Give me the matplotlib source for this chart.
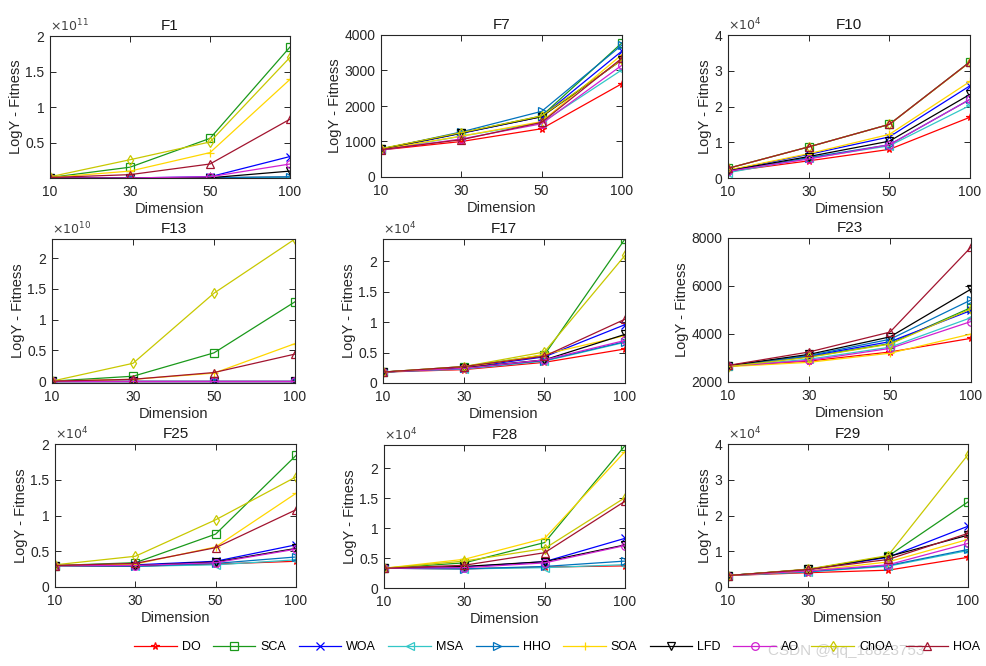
import matplotlib
matplotlib.use("Agg")
import matplotlib.pyplot as plt
import numpy as np

plt.rcParams['font.family'] = ['Liberation Sans', 'DejaVu Sans']

dims = ['10', '30', '50', '100']
algos = ['DO', 'SCA', 'WOA', 'MSA', 'HHO', 'SOA', 'LFD', 'AO', 'ChOA', 'HOA']
colors = ['#FF0000', '#1A991A', '#0000FF', '#33C7C7', '#0072BD', '#FFD700',
          '#000000', '#D020D0', '#C8C800', '#A2142F']
markers = ['*', 's', 'x', '<', '>', '+', 'v', 'o', 'd', '^']

# values per function, rows follow algos, in units of the scale below
F1 = [[0.003, 0.004, 0.006, 0.015],
      [0.01, 0.155, 0.56, 1.845],
      [0.003, 0.004, 0.02, 0.305],
      [0.003, 0.004, 0.006, 0.015],
      [0.003, 0.004, 0.008, 0.02],
      [0.01, 0.10, 0.36, 1.39],
      [0.003, 0.004, 0.006, 0.10],
      [0.003, 0.004, 0.02, 0.20],
      [0.02, 0.26, 0.51, 1.70],
      [0.01, 0.05, 0.20, 0.83]]
F7 = [[760, 1000, 1360, 2630],
      [790, 1240, 1720, 3780],
      [770, 1230, 1700, 3550],
      [750, 1150, 1530, 3020],
      [780, 1270, 1850, 3720],
      [780, 1150, 1560, 3450],
      [790, 1240, 1700, 3300],
      [760, 1070, 1500, 3150],
      [800, 1250, 1720, 3300],
      [770, 1050, 1540, 3350]]
F10 = [[0.18, 0.48, 0.80, 1.70],
       [0.27, 0.87, 1.50, 3.25],
       [0.21, 0.66, 1.15, 2.58],
       [0.15, 0.55, 0.90, 2.03],
       [0.19, 0.57, 0.93, 2.20],
       [0.22, 0.68, 1.22, 2.70],
       [0.20, 0.60, 1.03, 2.34],
       [0.19, 0.53, 0.93, 2.20],
       [0.27, 0.87, 1.50, 3.24],
       [0.27, 0.87, 1.50, 3.25]]
F13 = [[0.0, 0.0, 0.0, 0.0],
       [0.0, 0.08, 0.46, 1.29],
       [0.0, 0.0, 0.0, 0.0],
       [0.0, 0.0, 0.0, 0.0],
       [0.0, 0.0, 0.0, 0.0],
       [0.0, 0.03, 0.13, 0.61],
       [0.0, 0.0, 0.0, 0.0],
       [0.0, 0.0, 0.0, 0.0],
       [0.0, 0.29, 1.43, 2.31],
       [0.0, 0.03, 0.14, 0.44]]
F17 = [[0.18, 0.22, 0.34, 0.56],
       [0.18, 0.27, 0.46, 2.37],
       [0.18, 0.25, 0.43, 0.96],
       [0.18, 0.23, 0.36, 0.67],
       [0.18, 0.24, 0.37, 0.68],
       [0.18, 0.25, 0.47, 0.78],
       [0.18, 0.25, 0.38, 0.80],
       [0.18, 0.24, 0.38, 0.70],
       [0.18, 0.27, 0.51, 2.10],
       [0.18, 0.27, 0.44, 1.05]]
F23 = [[2660, 2870, 3250, 3820],
       [2660, 3050, 3600, 5100],
       [2670, 3080, 3680, 4980],
       [2650, 2950, 3450, 4680],
       [2670, 3100, 3780, 5420],
       [2640, 2820, 3200, 4000],
       [2680, 3150, 3880, 5870],
       [2660, 2900, 3400, 4520],
       [2640, 3030, 3580, 5050],
       [2690, 3250, 4080, 7620]]
F25 = [[0.30, 0.29, 0.32, 0.36],
       [0.30, 0.34, 0.74, 1.84],
       [0.30, 0.31, 0.36, 0.59],
       [0.30, 0.29, 0.31, 0.38],
       [0.30, 0.29, 0.33, 0.42],
       [0.30, 0.32, 0.56, 1.31],
       [0.30, 0.30, 0.35, 0.54],
       [0.30, 0.30, 0.34, 0.53],
       [0.31, 0.43, 0.94, 1.54],
       [0.30, 0.33, 0.55, 1.08]]
F28 = [[0.33, 0.32, 0.35, 0.37],
       [0.33, 0.42, 0.76, 2.38],
       [0.33, 0.35, 0.44, 0.83],
       [0.33, 0.32, 0.34, 0.39],
       [0.33, 0.32, 0.36, 0.45],
       [0.33, 0.48, 0.83, 2.28],
       [0.33, 0.36, 0.44, 0.72],
       [0.33, 0.34, 0.42, 0.71],
       [0.33, 0.45, 0.66, 1.51],
       [0.33, 0.38, 0.59, 1.45]]
F29 = [[0.32, 0.40, 0.47, 0.83],
       [0.32, 0.49, 0.86, 2.38],
       [0.32, 0.48, 0.83, 1.70],
       [0.32, 0.42, 0.58, 1.02],
       [0.32, 0.43, 0.60, 1.05],
       [0.32, 0.45, 0.70, 1.33],
       [0.32, 0.49, 0.85, 1.45],
       [0.32, 0.45, 0.62, 1.22],
       [0.32, 0.50, 0.88, 3.70],
       [0.32, 0.49, 0.77, 1.50]]

names = ['F1', 'F7', 'F10', 'F13', 'F17', 'F23', 'F25', 'F28', 'F29']
tables = [F1, F7, F10, F13, F17, F23, F25, F28, F29]
exps = [11, 0, 4, 10, 4, 0, 4, 4, 4]
ylims = [(0.003, 2), (0, 4000), (0, 4), (-0.03, 2.31), (0, 2.37),
         (2000, 8000), (0, 2), (0, 2.39), (0, 4)]
yticks = [[0.5, 1, 1.5, 2], [0, 1000, 2000, 3000, 4000], [0, 1, 2, 3, 4],
          [0, 0.5, 1, 1.5, 2], [0, 0.5, 1, 1.5, 2], [2000, 4000, 6000, 8000],
          [0, 0.5, 1, 1.5, 2], [0, 0.5, 1, 1.5, 2], [0, 1, 2, 3, 4]]

# axes boxes in pixels: left, right, top, bottom
boxes = [(50, 290, 36, 178), (381, 622, 35, 177), (728, 970, 35, 178),
         (52, 295, 239, 383), (383, 625, 239, 383), (728, 971, 238, 382),
         (55, 296, 444, 587), (384, 625, 445, 588), (728, 968, 444, 587)]

W, H = 986, 666
fig = plt.figure(figsize=(W / 100, H / 100), dpi=100)
x = np.arange(len(dims))
tc = '#262626'

for k in range(9):
    l, r, t, b = boxes[k]
    ax = fig.add_axes([l / W, 1 - b / H, (r - l) / W, (b - t) / H])
    sc = 10.0 ** exps[k]
    for i, a in enumerate(algos):
        y = np.array(tables[k][i]) * sc
        ax.plot(x, y, color=colors[i], marker=markers[i], mfc='none',
                markersize=5.5, lw=0.9, mew=0.9, label=a)
    ax.set_xlim(0, 3)
    ax.set_xticks(x)
    ax.set_xticklabels(dims)
    ax.set_ylim(ylims[k][0] * sc, ylims[k][1] * sc)
    ax.set_yticks(np.array(yticks[k]) * sc)
    ax.set_yticklabels(['%g' % v for v in yticks[k]])
    if exps[k]:
        ax.text(0.0, 1.015, r'$\times10^{%d}$' % exps[k], transform=ax.transAxes,
                fontsize=9, color='#404040', ha='left', va='bottom')
    ax.tick_params(direction='in', length=4, width=0.7, labelsize=10,
                   top=True, right=True, colors=tc, pad=4)
    ax.tick_params(axis='x', pad=5)
    for s in ax.spines.values():
        s.set_linewidth(0.8)
        s.set_color(tc)
    ax.set_title(names[k], fontsize=11, pad=4, color='#1a1a1a')
    ax.set_xlabel('Dimension', fontsize=10.5, labelpad=2, color=tc)
    ax.set_ylabel('LogY - Fitness', fontsize=10.5, labelpad=1.5, color=tc)
    if k == 0:
        handles, labels = ax.get_legend_handles_labels()

fig.legend(handles, labels, loc='center', ncol=10, frameon=False,
           bbox_to_anchor=(0.565, 0.028), fontsize=9, handlelength=3.4,
           columnspacing=1.0, handletextpad=0.4, borderaxespad=0)
fig.text(0.858, 0.022, 'CSDN @qq_18823753', fontsize=11, color='#c8c8c8',
         alpha=0.8, ha='center', va='center')

fig.savefig('out.png', dpi=100)
